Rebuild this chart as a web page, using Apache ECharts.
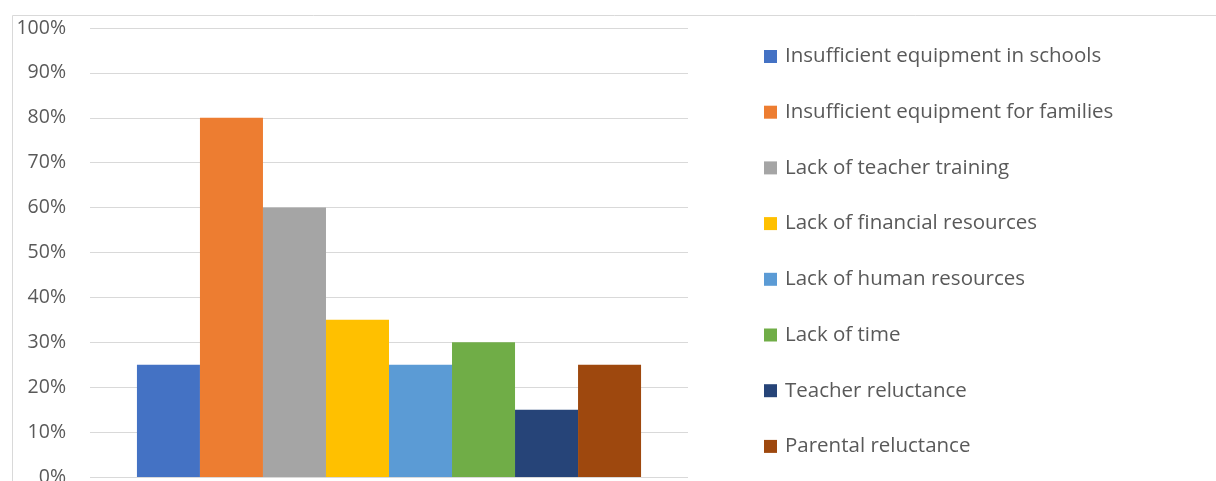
<!DOCTYPE html>
<html>
<head>
<meta charset="utf-8">
<script src="https://cdn.jsdelivr.net/npm/echarts@6/dist/echarts.min.js"></script>
<style>
  html, body { margin: 0; padding: 0; background: #fff; }
  #chart { width: 1216px; height: 481px; }
</style>
</head>
<body>
<div id="chart"></div>
<script>
// obstacles (one bar each, single category)
var seriesNames = [
  'Insufficient equipment in schools',
  'Insufficient equipment for families',
  'Lack of teacher training',
  'Lack of financial resources',
  'Lack of human resources',
  'Lack of time',
  'Teacher reluctance',
  'Parental reluctance'
]
var seriesValues = [25, 80, 60, 35, 25, 30, 15, 25]
var seriesColors = ['#4472C4', '#ED7D31', '#A5A5A5', '#FFC000', '#5B9BD5', '#70AD47', '#264478', '#9E480E']
var categories = ['']

var textColor = '#595959'
var font = 'Open Sans'

var chart = echarts.init(document.getElementById('chart'))

var series = seriesNames.map(function (name, i) {
  return {
    name: name,
    type: 'bar',
    data: [seriesValues[i]],
    barGap: '0%',
    barCategoryGap: '15.7%',
    itemStyle: { color: seriesColors[i] },
    emphasis: { disabled: true }
  }
})

chart.setOption({
  animation: false,
  graphic: [{
    type: 'rect',
    left: 10,
    top: 13,
    shape: { width: 1400, height: 700 },
    style: { fill: 'none', stroke: '#d9d9d9', lineWidth: 1 },
    z: -1
  }],
  grid: {
    left: 90,
    top: 28,
    width: 598,
    bottom: 4,
    outerBoundsMode: 'none'
  },
  legend: {
    orient: 'vertical',
    left: 764,
    top: 46,
    padding: 0,
    icon: 'rect',
    itemWidth: 13,
    itemHeight: 13,
    itemGap: 34.7,
    data: seriesNames,
    textStyle: {
      color: textColor,
      fontFamily: font,
      fontSize: 20.5,
      lineHeight: 20,
      padding: [0, 0, 0, 3]
    }
  },
  xAxis: {
    type: 'category',
    data: categories,
    axisLine: { show: false },
    axisTick: { show: false },
    axisLabel: { show: false }
  },
  yAxis: {
    type: 'value',
    min: 0,
    max: 100,
    interval: 10,
    axisLine: { show: false },
    axisTick: { show: false },
    axisLabel: {
      formatter: '{value}%',
      color: textColor,
      fontFamily: font,
      fontSize: 19.5,
      margin: 24
    },
    splitLine: {
      lineStyle: { color: '#d9d9d9', width: 1 }
    }
  },
  series: series
})
</script>
</body>
</html>
